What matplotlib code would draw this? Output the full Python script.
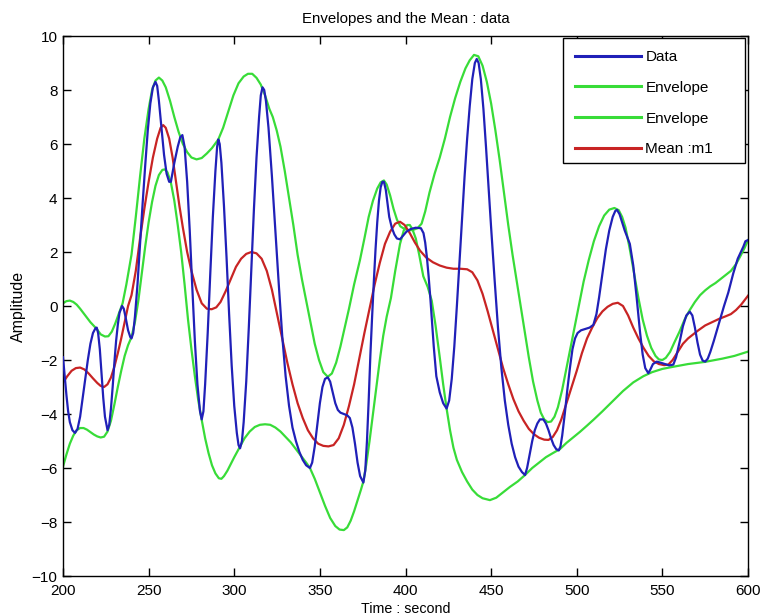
import matplotlib
matplotlib.use("Agg")
import matplotlib.pyplot as plt
from matplotlib.patches import Rectangle

plt.rcParams['font.family'] = ['Liberation Sans', 'DejaVu Sans']

# Signal samples (time in seconds, amplitude)
data_t = [200, 201, 202, 203, 204, 205.5, 207, 208.5, 210, 211.5, 213, 214.5, 216, 217.5, 219, 219.7,
          220.5, 221.5, 222.5, 223.5, 224.5, 226, 227, 228, 229, 230, 231, 232, 233, 234.5, 235.5,
          236.5, 238, 239.3, 240, 241, 242, 243.5, 245, 246.5, 248, 249.5, 251, 252.5, 254, 255, 256,
          257.5, 259, 260.5, 262, 263, 265, 267, 268.5, 269.7, 271, 272.5, 274, 275.5, 277, 278.5,
          280, 281, 282, 283, 284.5, 286, 287.5, 289, 290, 290.7, 291.5, 292.5, 294, 295.5, 297,
          298.5, 300, 301.5, 302.5, 303.4, 304.5, 305.5, 307, 308.5, 310, 311.5, 313, 314.5, 315.5,
          316.5, 317.5, 318.5, 320, 322, 324, 326, 328, 330, 332, 334, 336, 338, 340, 342, 344.2,
          345.5, 347, 348.5, 350, 351.5, 353, 354.6, 356, 357.5, 359, 360.5, 362, 364, 366, 367.5,
          369, 370.5, 372, 373.5, 375.4, 376.5, 377.5, 378.5, 379.5, 380.5, 381.5, 382.5, 383.5,
          384.5, 385.5, 386.5, 387.4, 388.5, 389.5, 390.5, 392, 393.5, 395, 396.8, 398.5, 400.5,
          403, 406, 409, 410.5, 411.5, 412.5, 413.5, 414.5, 415.5, 416.5, 418, 420, 422, 424,
          425.5, 427, 428.5, 430, 431.5, 433, 434.5, 436, 437.5, 439, 440.5, 441.6, 442.7, 444,
          445.5, 447, 448.5, 450, 452, 454, 456, 458, 460, 462, 464, 466, 468, 469.8, 471, 472.5,
          474, 475.5, 477, 478.5, 480.5, 482, 483.5, 485, 486.5, 488, 489.5, 490.5, 491.5, 493,
          494.5, 496, 497.5, 499, 500.5, 502.5, 505, 507.5, 509.7, 511.5, 513, 515, 517, 519, 521,
          522.5, 523.5, 525, 526.5, 528, 531, 533, 535, 537, 538.5, 540, 541.8, 543, 544.5, 546.7,
          549, 551.5, 554, 556.4, 558, 560, 562, 564, 566, 567.5, 569, 570.5, 572, 573.5, 575,
          576.5, 578, 580, 583.6, 586, 588.5, 591.4, 594, 597.3, 598.5, 600]
data_v = [-1.9, -2.6, -3.3, -3.9, -4.3, -4.6, -4.7, -4.55, -4.1, -3.4, -2.7, -2.0, -1.4, -1.0, -0.82, -0.8,
          -1.0, -1.6, -2.5, -3.4, -4.1, -4.6, -4.4, -3.8, -3.0, -2.1, -1.3, -0.7, -0.25, 0.0, -0.1,
          -0.4, -0.9, -1.15, -1.2, -1.0, -0.4, 0.8, 2.3, 3.8, 5.2, 6.5, 7.5, 8.1, 8.3, 8.15, 7.6,
          6.6, 5.6, 4.9, 4.6, 4.6, 5.3, 5.9, 6.25, 6.33, 5.9, 4.6, 2.8, 0.7, -1.3, -2.9,
          -3.9, -4.2, -3.9, -2.9, -1.0, 1.2, 3.3, 5.0, 5.9, 6.17, 6.0, 5.3, 3.7, 1.8, -0.3,
          -2.2, -3.7, -4.7, -5.15, -5.27, -5.0, -4.3, -2.8, -0.8, 1.4, 3.6, 5.5, 7.0, 7.8,
          8.1, 8.0, 7.6, 6.6, 4.8, 2.8, 0.8, -1.1, -2.6, -3.7, -4.5, -5.0, -5.4, -5.7, -5.9, -6.0,
          -5.8, -5.2, -4.4, -3.6, -3.0, -2.7, -2.64, -2.8, -3.2, -3.6, -3.85, -3.95, -4.0, -4.05, -4.15,
          -4.5, -5.1, -5.8, -6.3, -6.54, -6.1, -5.0, -3.5, -1.8, -0.4, 0.9, 2.1, 3.1,
          3.9, 4.4, 4.6, 4.6, 4.3, 3.8, 3.3, 2.9, 2.65, 2.5, 2.47, 2.6, 2.75,
          2.85, 2.9, 2.88, 2.7, 2.35, 1.8, 1.1, 0.3, -0.6, -1.5, -2.6, -3.2, -3.6, -3.8,
          -3.5, -2.7, -1.5, 0.0, 1.6, 3.2, 4.8, 6.2, 7.4, 8.4, 9.0, 9.15, 9.0, 8.4,
          7.3, 5.9, 4.4, 2.9, 1.0, -0.8, -2.3, -3.5, -4.4, -5.1, -5.6, -5.95, -6.15, -6.26, -6.0, -5.5,
          -5.0, -4.6, -4.35, -4.2, -4.2, -4.35, -4.6, -4.9, -5.15, -5.3, -5.35, -5.2, -4.8, -4.0,
          -3.1, -2.3, -1.6, -1.2, -1.0, -0.9, -0.85, -0.8, -0.7, -0.3, 0.3, 1.2, 2.1, 2.8, 3.3,
          3.52, 3.56, 3.4, 3.1, 2.8, 2.3, 1.5, 0.3, -1.0, -1.8, -2.3, -2.49, -2.35, -2.15, -2.06,
          -2.1, -2.15, -2.2, -2.17, -1.9, -1.35, -0.75, -0.35, -0.21, -0.35, -0.8, -1.35, -1.8, -2.02, -2.06,
          -1.95, -1.7, -1.3, -0.52, 0.0, 0.5, 1.21, 1.75, 2.2, 2.4, 2.44]

# Upper envelope through the local maxima
upper_t = [200, 202, 204, 206, 208, 210, 213, 216, 219.7, 222, 224.5, 226.5, 228.5, 230.5, 232.5, 234.8,
           237, 240, 242.5, 245, 247.5, 250, 252, 254, 256, 258, 260, 262.5, 265, 267.5, 270, 272.5,
           275, 278, 281, 284, 287, 290.7, 293.5, 296.5, 299.5, 302.5, 305.5, 308, 310.5, 313,
           315.5, 318, 320.5, 322.5, 324.8, 327, 329.5, 332, 334.5, 337, 339.5, 342, 344.5, 347,
           349.5, 352, 354.6, 357, 359.5, 362, 364.5, 367, 370, 373.4, 376, 378.5, 381, 383.5,
           385.5, 387.4, 389, 391, 393, 395, 397, 399.5, 402, 404.5, 407, 409.4, 411.5, 414, 417,
           420, 423, 426, 429, 432, 435, 437.5, 440, 442.5, 445, 447.5, 450, 452.5, 455, 457.5, 460,
           462.5, 465, 467, 469.5, 472, 474.5, 477, 479, 481, 483, 485, 487, 489, 491.5, 494,
           496.5, 499, 501.5, 504, 507, 510, 513, 516, 519, 522, 524.5, 526.5, 528.5, 531, 533.5,
           536, 538.5, 541, 543.5, 546, 548, 550, 552, 554.5, 557, 560, 563, 566, 569, 572, 575,
           578, 581, 584, 587, 590, 593, 596, 598, 600]
upper_v = [0.1, 0.18, 0.2, 0.15, 0.05, -0.1, -0.35, -0.6, -0.85, -1.05, -1.13, -1.12, -0.95, -0.65, -0.3, 0.1,
           0.8, 1.9, 3.3, 4.8, 6.2, 7.3, 8.0, 8.35, 8.46, 8.35, 8.1, 7.6, 7.0, 6.45, 6.0, 5.7,
           5.5, 5.43, 5.48, 5.65, 5.85, 6.17, 6.6, 7.2, 7.8, 8.25, 8.5, 8.6, 8.6, 8.45,
           8.2, 7.8, 7.3, 7.0, 6.5, 5.9, 5.0, 4.0, 3.0, 1.9, 1.0, 0.2, -0.6, -1.4,
           -2.0, -2.45, -2.62, -2.5, -2.1, -1.5, -0.8, -0.1, 0.8, 1.7, 2.5, 3.3, 3.9, 4.35,
           4.58, 4.65, 4.5, 4.1, 3.6, 3.2, 2.95, 2.85, 2.8, 2.82, 2.88, 3.05, 3.5, 4.2, 4.9,
           5.5, 6.2, 7.0, 7.7, 8.3, 8.8, 9.1, 9.3, 9.25, 8.9, 8.3, 7.5, 6.5, 5.4, 4.2, 3.0,
           1.9, 0.9, 0.1, -0.9, -1.9, -2.8, -3.5, -3.95, -4.2, -4.3, -4.28, -4.1, -3.75, -3.1, -2.3,
           -1.5, -0.7, 0.1, 0.9, 1.7, 2.4, 2.95, 3.35, 3.57, 3.63, 3.55, 3.3, 2.9, 2.1, 1.2,
           0.3, -0.5, -1.1, -1.55, -1.85, -1.98, -2.0, -1.92, -1.7, -1.35, -0.95, -0.5, -0.15, 0.15, 0.4, 0.58,
           0.73, 0.85, 1.0, 1.15, 1.3, 1.55, 1.9, 2.15, 2.44]

# Lower envelope through the local minima
lower_t = [200, 202, 204, 206, 208, 210, 212, 214, 216, 218, 220, 222, 224, 226, 228, 230, 232, 234, 236,
           238, 240, 242, 244, 246, 248, 250, 252, 254, 256, 258, 259.5, 261, 263, 265, 267, 269, 271,
           273, 275, 277, 279, 281, 283, 285, 287, 289, 291, 292.5, 294, 296, 298, 300, 303.4, 306,
           309, 312, 315, 318, 321, 324, 327, 330, 333, 336, 339, 342, 344.2, 347, 350, 353, 356,
           359, 361.5, 364, 366, 368, 370, 372, 374, 375.4, 377, 379, 381, 383, 385, 387, 389,
           391.5, 394, 396.8, 399, 401, 402.5, 404, 406, 408, 410.4, 413, 415.3, 417.5, 420, 422,
           424, 426, 428, 430, 433, 436, 439, 442, 445, 449.3, 453, 457, 461, 465.5, 469.8, 474,
           478, 482, 486, 490.2, 494, 498, 501.9, 506, 510, 515, 521.4, 527, 533, 538.9, 544, 550,
           556.4, 565, 574.9, 585, 592, 600]
lower_v = [-5.95, -5.5, -5.1, -4.8, -4.6, -4.52, -4.52, -4.58, -4.67, -4.76, -4.83, -4.87, -4.84, -4.65,
           -4.25, -3.65, -3.0, -2.4, -1.85, -1.45, -1.15, -0.6, 0.2, 1.2, 2.2, 3.1, 3.85, 4.45, 4.85,
           5.04, 5.06, 4.95, 4.57, 3.9, 3.0, 2.0, 0.8, -0.5, -1.6, -2.6, -3.5, -4.22, -4.9, -5.45,
           -5.9, -6.2, -6.38, -6.4, -6.3, -6.1, -5.85, -5.6, -5.2, -4.9, -4.65, -4.48, -4.4, -4.38,
           -4.4, -4.5, -4.65, -4.85, -5.05, -5.3, -5.55, -5.8, -6.0, -6.4, -6.9, -7.4, -7.85, -8.15,
           -8.28, -8.3, -8.2, -7.95, -7.6, -7.2, -6.8, -6.5, -5.9, -5.0, -4.0, -3.0, -2.0, -1.1,
           -0.4, 0.3, 1.3, 2.3, 2.8, 3.0, 3.0, 2.85, 2.5, 1.9, 1.1, 0.7, 0.2, -0.7, -1.9, -2.9,
           -3.8, -4.6, -5.25, -5.7, -6.15, -6.5, -6.8, -7.0, -7.12, -7.19, -7.1, -6.9, -6.7, -6.5,
           -6.26, -6.0, -5.8, -5.6, -5.45, -5.3, -5.07, -4.86, -4.66, -4.43, -4.2, -3.9, -3.5, -3.15,
           -2.83, -2.6, -2.45, -2.33, -2.25, -2.15, -2.07, -1.95, -1.85, -1.69]

# Mean of the two envelopes (m1)
mean_t = [200, 202.5, 205, 207.5, 210, 212.5, 215, 217.5, 220, 222, 224, 226, 228, 230, 232, 234, 236,
          238, 240, 242.5, 245, 247.5, 250, 252.5, 255, 257, 258.5, 260, 262, 264, 266, 268, 270,
          272.5, 275, 278, 281, 284, 286.8, 289.5, 292, 295, 298, 301, 304, 307, 310, 313, 316,
          319, 322, 325, 328, 331, 334, 337, 340, 343, 346, 349, 352, 355, 358, 361, 364, 367, 370,
          373, 376, 379, 382, 385, 388, 391, 394, 396.8, 399.5, 402.5, 405.5, 408.5, 412, 416, 420,
          424, 428, 432, 436, 439, 442, 445, 448, 451, 454, 457, 460, 463, 466, 469, 472, 475, 478,
          481, 483.5, 486, 488.5, 491, 494, 497, 500, 503, 506, 509, 512, 515, 518, 521, 524, 527,
          530, 533, 536, 539, 542, 545, 548, 551, 553.5, 556, 559, 562, 565, 568, 571, 575, 579,
          583, 587, 590, 593, 596, 600]
mean_v = [-2.84, -2.6, -2.4, -2.3, -2.28, -2.35, -2.5, -2.68, -2.85, -2.96, -3.0, -2.9, -2.65, -2.25, -1.75,
          -1.2, -0.6, 0.0, 0.4, 1.3, 2.5, 3.6, 4.6, 5.5, 6.2, 6.6, 6.7, 6.6, 6.2, 5.5, 4.6, 3.7, 2.9,
          2.0, 1.3, 0.6, 0.1, -0.1, -0.12, -0.05, 0.15, 0.55, 1.0, 1.45, 1.75, 1.93, 2.0, 1.95, 1.75,
          1.3, 0.6, -0.3, -1.2, -2.1, -2.9, -3.6, -4.15, -4.6, -4.9, -5.1, -5.18, -5.2, -5.15, -4.9,
          -4.4, -3.7, -2.9, -1.95, -1.0, -0.1, 0.8, 1.6, 2.3, 2.75, 3.05, 3.12, 3.0, 2.7, 2.35, 2.05,
          1.8, 1.62, 1.5, 1.42, 1.38, 1.38, 1.36, 1.25, 0.95, 0.45, -0.2, -0.9, -1.6, -2.3, -2.9,
          -3.45, -3.9, -4.25, -4.55, -4.75, -4.88, -4.95, -4.96, -4.85, -4.6, -4.2, -3.6, -3.0, -2.4,
          -1.75, -1.2, -0.8, -0.45, -0.2, -0.03, 0.08, 0.12, 0.0, -0.35, -0.8, -1.2, -1.55, -1.85,
          -2.05, -2.15, -2.19, -2.17, -2.0, -1.7, -1.4, -1.2, -1.05, -0.9, -0.72, -0.6, -0.48, -0.38,
          -0.3, -0.15, 0.05, 0.38]

x_ticks = [200, 250, 300, 350, 400, 450, 500, 550, 600]
y_ticks = [-10, -8, -6, -4, -2, 0, 2, 4, 6, 8, 10]
legend_labels = ['Data', 'Envelope', 'Envelope', 'Mean :m1']

BLUE = '#2020b8'
GREEN = '#38dc38'
RED = '#c82424'

W, H = 762, 616
fig = plt.figure(figsize=(W / 100, H / 100), dpi=100)
ax = fig.add_axes([63 / W, 1 - 576 / H, 685 / W, 540 / H])

lw = 1.6
h_data, = ax.plot(data_t, data_v, color=BLUE, lw=lw, zorder=3)
h_up, = ax.plot(upper_t, upper_v, color=GREEN, lw=lw, zorder=2)
h_lo, = ax.plot(lower_t, lower_v, color=GREEN, lw=lw, zorder=2)
h_mean, = ax.plot(mean_t, mean_v, color=RED, lw=lw, zorder=2)

ax.set_xlim(200, 600)
ax.set_ylim(-10, 10)
ax.set_xticks(x_ticks)
ax.set_yticks(y_ticks)
ax.set_yticklabels([str(v).replace('-', '\u2212') for v in y_ticks])
ax.tick_params(direction='in', top=True, right=True, length=6, width=1, labelsize=11)
ax.tick_params(axis='x', pad=6)
ax.tick_params(axis='y', pad=4)
for s in ax.spines.values():
    s.set_linewidth(1.0)

ax.set_title('Envelopes and the Mean : data', fontsize=10.8, pad=9)
ax.set_xlabel('Time : second', fontsize=10.3, labelpad=2.5)
ax.set_ylabel('Amplitude', fontsize=11.5, labelpad=4)

# Legend: boxed panel in the upper-right corner, wider than its entries
def ax_x(px):
    return (px - 63) / 685

def ax_y(py):
    return 1 - (py - 36) / 540

ax.add_patch(Rectangle((ax_x(563), ax_y(163)), ax_x(745) - ax_x(563), ax_y(38) - ax_y(163),
                       transform=ax.transAxes, facecolor='white', edgecolor='black',
                       linewidth=1.0, zorder=5))
leg = ax.legend([h_data, h_up, h_lo, h_mean], legend_labels, loc='upper left',
                bbox_to_anchor=(ax_x(575), ax_y(50)), borderaxespad=0, borderpad=0,
                fontsize=11, handlelength=4.3, handletextpad=0.3, labelspacing=1.1,
                frameon=False)
leg.set_zorder(6)
for line in leg.get_lines():
    line.set_linewidth(2.2)

fig.savefig('out.png', dpi=100)
